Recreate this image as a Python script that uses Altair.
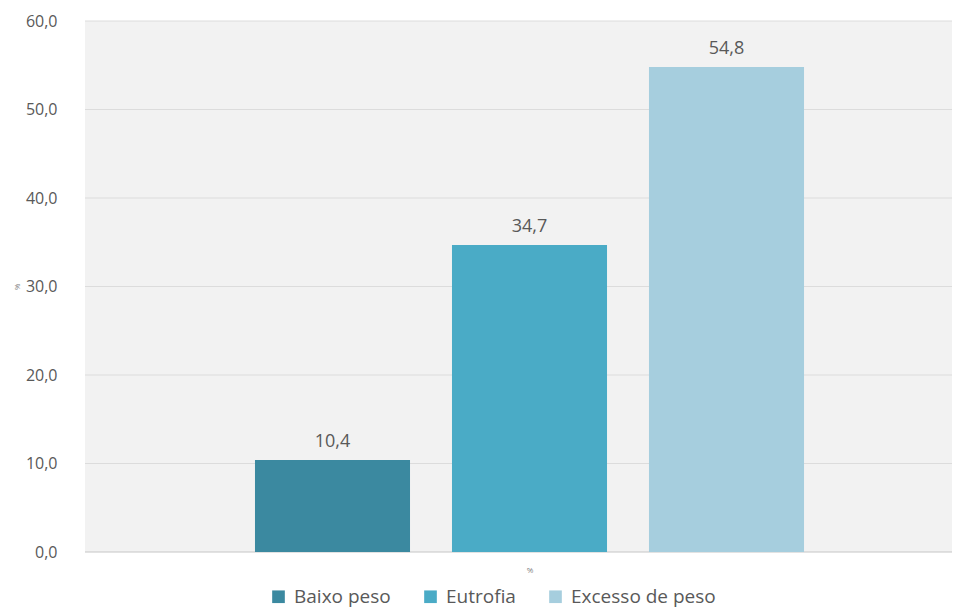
import altair as alt
import pandas as pd

categorias = ["Baixo peso", "Eutrofia", "Excesso de peso"]
valores = [10.4, 34.7, 54.8]
cores = ["#3b89a0", "#4aabc6", "#a6cede"]
y_ticks = [0, 10, 20, 30, 40, 50, 60]

df = pd.DataFrame({"categoria": categorias, "valor": valores})
grid_df = pd.DataFrame({"tick": y_ticks})

FONT = "Open Sans"
GRAY = "#595959"
W, H = 867, 531

x_scale = alt.Scale(domain=categorias, range=[149, 740], paddingInner=0.213, paddingOuter=0.1065)
y_scale = alt.Scale(domain=[0, 60], nice=False)

grid = alt.Chart(grid_df).mark_rule(strokeWidth=1).encode(
    y=alt.Y("tick:Q", scale=y_scale,
            axis=alt.Axis(values=y_ticks, ticks=False, domain=False, grid=False,
                          labelExpr="replace(format(datum.value, '.1f'), '.', ',')",
                          labelFont=FONT, labelFontSize=16, labelColor=GRAY, labelPadding=28,
                          title="%", titleFont=FONT, titleFontSize=8, titleFontWeight="normal",
                          titleColor="#7f7f7f", titlePadding=4)),
    x=alt.value(0),
    x2=alt.value(W),
    color=alt.condition(alt.datum.tick == 0, alt.value("#c6c6c6"), alt.value("#dcdcdc")),
)

base = alt.Chart(df).encode(
    x=alt.X("categoria:N", scale=x_scale, sort=categorias,
            axis=alt.Axis(labels=False, ticks=False, domain=False, grid=False, title="%",
                          titleFont=FONT, titleFontSize=8, titleFontWeight="normal",
                          titleColor="#7f7f7f", titlePadding=14)),
    y=alt.Y("valor:Q", scale=y_scale),
)

bars = base.mark_bar().encode(
    color=alt.Color("categoria:N", sort=categorias,
                    scale=alt.Scale(domain=categorias, range=cores),
                    legend=alt.Legend(orient="none", legendX=184, legendY=566,
                                      direction="horizontal", title=None,
                                      symbolType="square", symbolSize=160, symbolStrokeWidth=0,
                                      labelFont=FONT, labelFontSize=19, labelColor=GRAY,
                                      columnPadding=30, labelOffset=6))
)

labels = base.transform_calculate(
    rotulo="replace(format(datum.valor, '.1f'), '.', ',')"
).mark_text(baseline="bottom", dy=-9, font=FONT, fontSize=18, color=GRAY).encode(
    text="rotulo:N"
)

chart = alt.layer(grid, bars, labels).properties(
    width=W, height=H,
    padding={"left": 5, "top": 5, "right": 0, "bottom": 5}
).configure_view(
    fill="#f2f2f2", stroke=None
)

chart.save("out.html", embed_options={"renderer": "svg", "actions": False})
